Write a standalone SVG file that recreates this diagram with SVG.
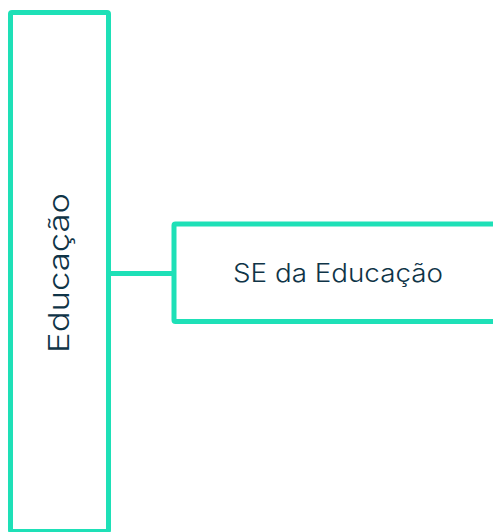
<svg xmlns="http://www.w3.org/2000/svg" width="493" height="532" viewBox="0 0 493 532">
<style>
.box{fill:#ffffff;stroke:#1ee0b7;stroke-width:5;stroke-linejoin:round}
.conn{stroke:#1ee0b7;stroke-width:5;fill:none}
.lbl{font-family:"Inter","Liberation Sans",sans-serif;font-weight:300;fill:#0f3447;text-anchor:middle}
</style>
<rect width="493" height="532" fill="#ffffff"/>
<g id="connectors">
<line class="conn" x1="108.5" y1="273.5" x2="174" y2="273.5"/>
</g>
<g id="node-educacao">
<rect class="box" x="10.5" y="12.5" width="98" height="519" rx="1.5"/>
<text class="lbl" transform="translate(68.5,273) rotate(-90)" x="0" y="0" font-size="29" textLength="160" lengthAdjust="spacingAndGlyphs">Educação</text>
</g>
<g id="node-se-educacao">
<rect class="box" x="174" y="224" width="330" height="97.5" rx="1.5"/>
<text class="lbl" x="338" y="281.7" font-size="25" textLength="210" lengthAdjust="spacingAndGlyphs">SE da Educação</text>
</g>
</svg>
